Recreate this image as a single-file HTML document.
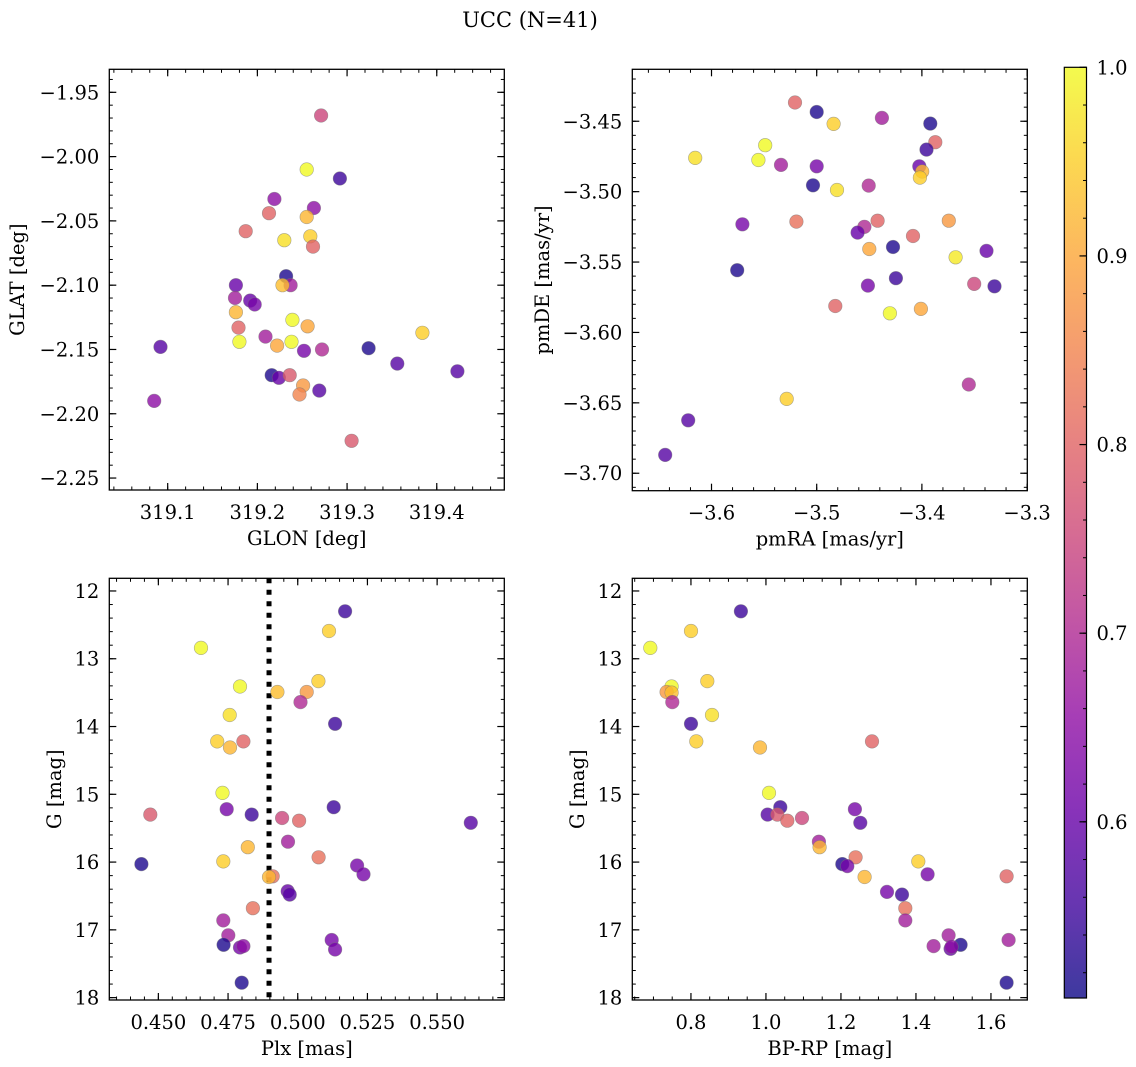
<!DOCTYPE html>
<html><head><meta charset="utf-8"><style>
html,body{margin:0;padding:0;background:#fff;}
svg{display:block;font-family:"DejaVu Serif","Liberation Serif",serif;}
</style></head><body>
<svg id="fig" width="1136" height="1067" viewBox="0 0 1136 1067" xmlns="http://www.w3.org/2000/svg">
<defs>
<linearGradient id="plasma" x1="0" y1="1" x2="0" y2="0">
<stop offset="0" stop-color="#0d0887"/><stop offset="0.1" stop-color="#41049d"/><stop offset="0.2" stop-color="#6a00a8"/><stop offset="0.3" stop-color="#8f0da4"/><stop offset="0.4" stop-color="#b12a90"/><stop offset="0.5" stop-color="#cc4778"/><stop offset="0.6" stop-color="#e16462"/><stop offset="0.7" stop-color="#f2844b"/><stop offset="0.8" stop-color="#fca636"/><stop offset="0.9" stop-color="#fcce25"/><stop offset="1" stop-color="#f0f921"/>
</linearGradient>
</defs>
<text x="530" y="27" font-size="21" text-anchor="middle">UCC (N=41)</text>
</svg>
<script>
// ---- Top-left: GLON vs GLAT ----
const glonTL=[319.271,319.255,319.292,319.219,319.263,319.213,319.255,319.187,319.230,319.259,319.262,319.232,319.176,319.237,319.228,319.175,319.192,319.197,319.176,319.239,319.256,319.179,319.209,319.180,319.222,319.238,319.252,319.272,319.092,319.324,319.384,319.356,319.423,319.216,319.224,319.236,319.251,319.247,319.269,319.085,319.305];
const glatTL=[-1.968,-2.010,-2.017,-2.033,-2.040,-2.044,-2.047,-2.058,-2.065,-2.062,-2.070,-2.093,-2.100,-2.100,-2.100,-2.110,-2.112,-2.115,-2.121,-2.127,-2.132,-2.133,-2.140,-2.144,-2.147,-2.144,-2.151,-2.150,-2.148,-2.149,-2.137,-2.161,-2.167,-2.170,-2.172,-2.170,-2.178,-2.185,-2.182,-2.190,-2.221];
const probTL=[.75,1.0,.55,.65,.65,.8,.92,.8,.97,.95,.8,.52,.6,.68,.93,.68,.6,.62,.92,1.0,.9,.8,.68,1.0,.9,1.0,.62,.7,.58,.52,.95,.58,.58,.52,.6,.78,.88,.85,.58,.65,.78];
// ---- Top-right: pmRA vs pmDE ----
const pmraTR=[-3.5206,-3.5,-3.4839,-3.438,-3.392,-3.3873,-3.3956,-3.549,-3.6155,-3.5554,-3.5339,-3.5,-3.4025,-3.3997,-3.4019,-3.5035,-3.4807,-3.4506,-3.5706,-3.5193,-3.4421,-3.4547,-3.4611,-3.3744,-3.4085,-3.45,-3.4275,-3.368,-3.3386,-3.5756,-3.4247,-3.4513,-3.3503,-3.331,-3.4823,-3.4009,-3.4304,-3.5285,-3.3554,-3.6222,-3.644];
const pmdeTR=[-3.4367,-3.4434,-3.4519,-3.4476,-3.4517,-3.4649,-3.4701,-3.467,-3.476,-3.4775,-3.481,-3.482,-3.482,-3.4857,-3.49,-3.4955,-3.4988,-3.4957,-3.5232,-3.5213,-3.5206,-3.525,-3.5291,-3.5206,-3.5315,-3.5407,-3.5393,-3.5466,-3.5421,-3.5558,-3.5615,-3.5667,-3.5655,-3.5672,-3.5812,-3.5833,-3.5864,-3.6472,-3.637,-3.6624,-3.687];
const probTR=[.8,.52,.95,.68,.52,.8,.55,1.0,.97,1.0,.68,.62,.6,.92,.95,.52,.97,.7,.62,.82,.8,.7,.6,.88,.8,.9,.52,.98,.6,.52,.55,.62,.75,.55,.8,.9,1.0,.95,.7,.58,.58];
// ---- Bottom-left: Plx vs G ----
const plxBL=[0.5170,0.5112,0.4653,0.5074,0.4793,0.4927,0.5032,0.501,0.4756,0.5134,0.4711,0.4757,0.4805,0.473,0.4745,0.4835,0.5129,0.4471,0.4944,0.5005,0.5621,0.4965,0.4821,0.5075,0.4733,0.4439,0.5213,0.5236,0.491,0.4897,0.4964,0.4971,0.4839,0.4733,0.4751,0.5122,0.5134,0.4734,0.4793,0.4805,0.4799];
const gBL=[12.30,12.59,12.84,13.33,13.41,13.49,13.49,13.64,13.83,13.96,14.22,14.31,14.22,14.98,15.22,15.30,15.19,15.30,15.35,15.39,15.42,15.70,15.78,15.93,15.99,16.03,16.05,16.18,16.21,16.22,16.43,16.48,16.68,16.86,17.08,17.15,17.29,17.22,17.26,17.24,17.78];
const probBL=[.55,.95,1.0,.95,1.0,.93,.88,.7,.97,.55,.95,.92,.8,1.0,.62,.55,.55,.78,.75,.8,.58,.68,.92,.82,.95,.52,.62,.62,.82,.92,.6,.58,.82,.68,.68,.62,.62,.52,.62,.65,.52];
const plxMedian=0.4897;
// ---- Bottom-right: BP-RP vs G ----
const bprpBR=[0.9333,0.8,0.6916,0.8436,0.7484,0.7351,0.7484,0.7502,0.856,0.8,0.8142,0.984,1.2827,1.008,1.0382,1.0044,1.0302,1.0569,1.096,1.2373,1.2516,1.1413,1.1431,1.2391,1.2036,1.2169,1.4062,1.4311,1.6418,1.2631,1.3227,1.3627,1.3716,1.3716,1.4871,1.6471,1.4471,1.4924,1.5191,1.4951,1.6418];
const gBR=[12.30,12.59,12.84,13.33,13.41,13.49,13.50,13.64,13.83,13.96,14.22,14.31,14.22,14.98,15.19,15.30,15.30,15.39,15.35,15.22,15.42,15.70,15.78,15.93,16.03,16.06,15.99,16.18,16.21,16.22,16.44,16.48,16.68,16.86,17.08,17.15,17.24,17.28,17.22,17.25,17.78];
const probBR=[.55,.95,1.0,.95,1.0,.88,.93,.7,.97,.55,.95,.92,.8,1.0,.55,.58,.78,.8,.75,.62,.58,.68,.92,.82,.52,.62,.95,.62,.8,.92,.62,.55,.82,.68,.68,.68,.68,.6,.52,.65,.52];
// ---- tick labels ----
const ticksTLx=[319.1,319.2,319.3,319.4], ticksTLy=[-1.95,-2.00,-2.05,-2.10,-2.15,-2.20,-2.25];
const ticksTRx=[-3.6,-3.5,-3.4,-3.3], ticksTRy=[-3.45,-3.50,-3.55,-3.60,-3.65,-3.70];
const ticksBLx=[0.450,0.475,0.500,0.525,0.550], ticksG=[12,13,14,15,16,17,18];
const ticksBRx=[0.8,1.0,1.2,1.4,1.6];
const ticksCB=[0.6,0.7,0.8,0.9,1.0];
const cbMin=0.5066, cbMax=1.0;

const FS=19.5;
const NS="http://www.w3.org/2000/svg";
const svg=document.getElementById('fig');
function mk(tag,attrs,parent){const e=document.createElementNS(NS,tag);for(const k in attrs)e.setAttribute(k,attrs[k]);(parent||svg).appendChild(e);return e;}

const stops=[[0,[13,8,135]],[.1,[65,4,157]],[.2,[106,0,168]],[.3,[143,13,164]],[.4,[177,42,144]],[.5,[204,71,120]],[.6,[225,100,98]],[.7,[242,132,75]],[.8,[252,166,54]],[.9,[252,206,37]],[1,[240,249,33]]];
function plasma(p){let t=(p-cbMin)/(cbMax-cbMin);t=Math.max(0,Math.min(1,t));for(let i=1;i<stops.length;i++){if(t<=stops[i][0]){const a=stops[i-1],b=stops[i];const f=(t-a[0])/(b[0]-a[0]);const c=a[1].map((v,j)=>Math.round(v+(b[1][j]-v)*f));return `rgb(${c[0]},${c[1]},${c[2]})`;}}return 'rgb(240,249,33)';}
function fmt(v,d){return (v<0?'\u2212':'')+Math.abs(v).toFixed(d);}

function panel(o){
  const g=mk('g',{});
  
  
  const sx=v=>o.x0+(v-o.xmin)/(o.xmax-o.xmin)*(o.x1-o.x0);
  const sy=v=>o.inv? o.y0+(v-o.ymin)/(o.ymax-o.ymin)*(o.y1-o.y0) : o.y1-(v-o.ymin)/(o.ymax-o.ymin)*(o.y1-o.y0);
  const clip='clip-'+o.name;
  const cp=mk('clipPath',{id:clip},g);mk('rect',{x:o.x0,y:o.y0,width:o.x1-o.x0,height:o.y1-o.y0},cp);
  const pts=mk('g',{'clip-path':`url(#${clip})`},g);
  if(o.vline!==undefined){
    const ln=mk('line',{x1:sx(o.vline),x2:sx(o.vline),y1:o.y0,y2:o.y1,stroke:'#000','stroke-width':5,'stroke-dasharray':'5 6.5'},pts);
    
    
  }
  for(let i=0;i<o.xs.length;i++){
    const c=mk('circle',{cx:sx(o.xs[i]).toFixed(1),cy:sy(o.ys[i]).toFixed(1),r:6.8,fill:plasma(o.cs[i]),'fill-opacity':0.8,stroke:'#777','stroke-opacity':0.6,'stroke-width':0.6},pts);
    
    
  }
  mk('rect',{x:o.x0,y:o.y0,width:o.x1-o.x0,height:o.y1-o.y0,fill:'none',stroke:'#000','stroke-width':1.3},g);
  const lo=Math.min(o.xmin,o.xmax),hi=Math.max(o.xmin,o.xmax);
  for(let k=Math.ceil(lo/o.xminor-1e-6);k*o.xminor<=hi+1e-9;k++){const X=sx(k*o.xminor);
    mk('line',{x1:X,x2:X,y1:o.y1,y2:o.y1-3.5,stroke:'#000','stroke-width':1},g);mk('line',{x1:X,x2:X,y1:o.y0,y2:o.y0+3.5,stroke:'#000','stroke-width':1},g);}
  const ylo=Math.min(o.ymin,o.ymax),yhi=Math.max(o.ymin,o.ymax);
  for(let k=Math.ceil(ylo/o.yminor-1e-6);k*o.yminor<=yhi+1e-9;k++){const Y=sy(k*o.yminor);
    mk('line',{x1:o.x0,x2:o.x0+3.5,y1:Y,y2:Y,stroke:'#000','stroke-width':1},g);mk('line',{x1:o.x1,x2:o.x1-3.5,y1:Y,y2:Y,stroke:'#000','stroke-width':1},g);}
  o.xt.forEach(v=>{const X=sx(v);
    mk('line',{x1:X,x2:X,y1:o.y1,y2:o.y1-7,stroke:'#000','stroke-width':1.2},g);mk('line',{x1:X,x2:X,y1:o.y0,y2:o.y0+7,stroke:'#000','stroke-width':1.2},g);
    const t=mk('text',{x:X,y:o.y1+29,'font-size':FS,'text-anchor':'middle'},g);t.textContent=fmt(v,o.xd);
    
    });
  o.yt.forEach(v=>{const Y=sy(v);
    mk('line',{x1:o.x0,x2:o.x0+7,y1:Y,y2:Y,stroke:'#000','stroke-width':1.2},g);mk('line',{x1:o.x1,x2:o.x1-7,y1:Y,y2:Y,stroke:'#000','stroke-width':1.2},g);
    const t=mk('text',{x:o.x0-10,y:Y+7,'font-size':FS,'text-anchor':'end'},g);t.textContent=fmt(v,o.yd);
    
    });
  const xl=mk('text',{x:(o.x0+o.x1)/2,y:o.y1+55,'font-size':FS,'text-anchor':'middle'},g);xl.textContent=o.xlabel;
  
  
  const yc=(o.y0+o.y1)/2;
  const yl=mk('text',{x:o.ylx,y:yc,'font-size':FS,'text-anchor':'middle',transform:`rotate(-90 ${o.ylx} ${yc})`},g);yl.textContent=o.ylabel;
  
  
}

panel({name:'glon-glat-panel',x0:109.3,x1:504.3,y0:69.3,y1:490,xmin:319.0349,xmax:319.4753,ymin:-2.2593,ymax:-1.9321,xs:glonTL,ys:glatTL,cs:probTL,xt:ticksTLx,yt:ticksTLy,xd:1,yd:2,xminor:0.02,yminor:0.01,xlabel:'GLON [deg]',ylabel:'GLAT [deg]',ylx:24});
panel({name:'pm-panel',x0:632.3,x1:1027.3,y0:69.3,y1:490.7,xmin:-3.6753,xmax:-3.2998,ymin:-3.7124,ymax:-3.4131,xs:pmraTR,ys:pmdeTR,cs:probTR,xt:ticksTRx,yt:ticksTRy,xd:1,yd:2,xminor:0.02,yminor:0.01,xlabel:'pmRA [mas/yr]',ylabel:'pmDE [mas/yr]',ylx:549});
panel({name:'plx-g-panel',x0:109.3,x1:504.3,y0:578.3,y1:1000,xmin:0.4324,xmax:0.5741,ymin:11.813,ymax:18.035,inv:true,xs:plxBL,ys:gBL,cs:probBL,xt:ticksBLx,yt:ticksG,xd:3,yd:0,xminor:0.005,yminor:0.2,xlabel:'Plx [mas]',ylabel:'G [mag]',ylx:61,vline:plxMedian});
panel({name:'cmd-panel',x0:632.3,x1:1027.3,y0:578.3,y1:1000,xmin:0.6436,xmax:1.6969,ymin:11.813,ymax:18.035,inv:true,xs:bprpBR,ys:gBR,cs:probBR,xt:ticksBRx,yt:ticksG,xd:1,yd:0,xminor:0.05,yminor:0.2,xlabel:'BP-RP [mag]',ylabel:'G [mag]',ylx:584});

// colorbar
const cb=mk('g',{});


const cbx0=1064.3,cbx1=1086.5,cby0=67.3,cby1=998;
const cy=v=>cby1-(v-cbMin)/(cbMax-cbMin)*(cby1-cby0);
mk('rect',{x:cbx0,y:cby0,width:cbx1-cbx0,height:cby1-cby0,fill:'url(#plasma)','fill-opacity':0.8},cb);
mk('rect',{x:cbx0,y:cby0,width:cbx1-cbx0,height:cby1-cby0,fill:'none',stroke:'#000','stroke-width':1.2},cb);
for(let k=26;k<=50;k++){const v=k*0.02;if(v<cbMin)continue;const Y=cy(v);mk('line',{x1:cbx1,x2:cbx1-3.5,y1:Y,y2:Y,stroke:'#000','stroke-width':1},cb);}
ticksCB.forEach(v=>{const Y=cy(v);mk('line',{x1:cbx1,x2:cbx1-7,y1:Y,y2:Y,stroke:'#000','stroke-width':1.2},cb);
  const t=mk('text',{x:cbx1+10,y:Y+7,'font-size':FS},cb);t.textContent=v.toFixed(1);
  
  });
</script>
</body></html>
